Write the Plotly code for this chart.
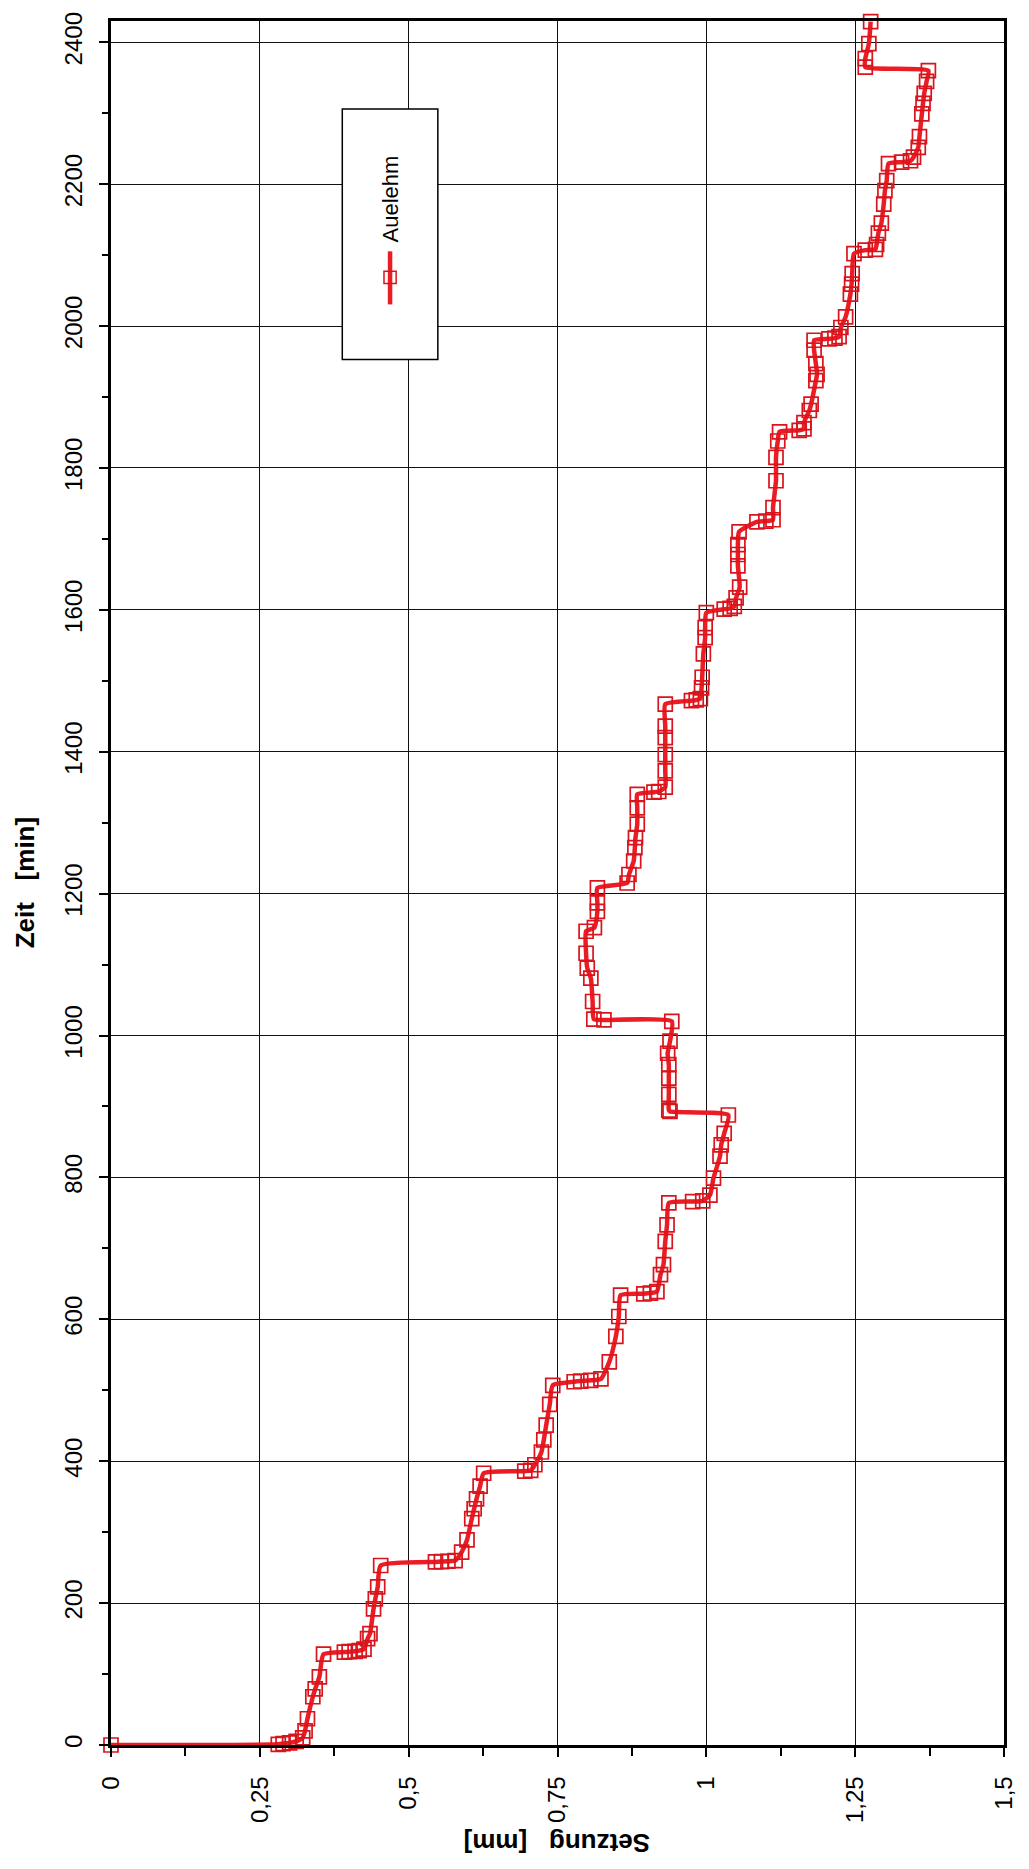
import plotly.graph_objects as go

# Zeit-Setzungs-Verlauf, Probe "Auelehm"
zeit_min = [
    0, 1, 2, 3, 5, 10, 20, 37, 68, 79, 96, 128,
    131, 131.5, 132, 133, 135, 150, 157, 192, 206, 223, 253,
    258, 258.5, 259, 260, 272, 289, 319, 333, 347, 365, 383,
    386, 387, 395, 413, 430, 451, 480, 507,
    512, 513, 514, 516, 540, 576, 604, 634,
    636, 637, 639, 663, 677, 710, 733, 764,
    766, 767, 775, 799, 830, 846, 862, 888,
    893, 895, 917, 940, 959, 975, 992, 1020,
    1022, 1023, 1048, 1081, 1095, 1116, 1147,
    1152, 1175, 1187, 1208,
    1215, 1227, 1246, 1265, 1279, 1298, 1321, 1340,
    1343, 1344, 1350, 1373, 1396, 1420, 1436, 1467,
    1472, 1473, 1475, 1490, 1505, 1538, 1561, 1575, 1596,
    1601, 1602, 1605, 1617, 1632, 1662, 1678, 1692, 1710,
    1724, 1725, 1727, 1744, 1782, 1815, 1838, 1851,
    1853, 1855, 1864, 1881, 1890, 1923, 1932, 1947, 1966, 1980,
    1982, 1983, 1985, 1998, 2013, 2045, 2059, 2074, 2102,
    2107, 2108, 2115, 2131, 2145, 2172, 2191, 2205, 2229,
    2231, 2233, 2238, 2252, 2267, 2299, 2314, 2328, 2345, 2360,
    2365, 2377, 2398, 2429,
]

setzung_mm = [
    0.000, 0.281, 0.289, 0.300, 0.311, 0.322, 0.326, 0.330, 0.339, 0.343, 0.350, 0.357,
    0.392, 0.400, 0.410, 0.417, 0.425, 0.431, 0.435, 0.441, 0.444, 0.448, 0.453,
    0.545, 0.555, 0.566, 0.578, 0.589, 0.598, 0.606, 0.610, 0.614, 0.620, 0.626,
    0.695, 0.705, 0.712, 0.723, 0.727, 0.731, 0.737, 0.742,
    0.778, 0.789, 0.806, 0.823, 0.837, 0.848, 0.853, 0.856,
    0.895, 0.906, 0.917, 0.923, 0.928, 0.931, 0.934, 0.937,
    0.977, 0.994, 1.006, 1.012, 1.023, 1.025, 1.030, 1.037,
    0.939, 0.937, 0.937, 0.937, 0.937, 0.935, 0.939, 0.942,
    0.828, 0.811, 0.809, 0.806, 0.800, 0.798, 0.798,
    0.812, 0.817, 0.817, 0.817,
    0.867, 0.870, 0.878, 0.880, 0.881, 0.884, 0.884, 0.884,
    0.912, 0.920, 0.931, 0.931, 0.931, 0.931, 0.931, 0.931,
    0.975, 0.983, 0.990, 0.992, 0.993, 0.995, 0.998, 0.998, 1.000,
    1.030, 1.040, 1.047, 1.050, 1.056, 1.053, 1.053, 1.053, 1.055,
    1.085, 1.100, 1.112, 1.112, 1.117, 1.117, 1.120, 1.123,
    1.156, 1.164, 1.164, 1.173, 1.176, 1.184, 1.186, 1.184, 1.181, 1.181,
    1.206, 1.216, 1.223, 1.226, 1.234, 1.242, 1.244, 1.245, 1.248,
    1.267, 1.284, 1.286, 1.289, 1.294, 1.298, 1.300, 1.303, 1.306,
    1.328, 1.343, 1.348, 1.356, 1.358, 1.362, 1.364, 1.366, 1.370, 1.373,
    1.267, 1.267, 1.273, 1.276,
]

setzung_ticks = [0, 0.25, 0.5, 0.75, 1, 1.25, 1.5]
setzung_ticktext = ["0", "0,25", "0,5", "0,75", "1", "1,25", "1,5"]
zeit_ticks = [0, 200, 400, 600, 800, 1000, 1200, 1400, 1600, 1800, 2000, 2200, 2400]

RED = "#ec1c24"
MARK = "#d8141c"
FONT = "Liberation Sans, Arial, sans-serif"

fig = go.Figure()
fig.add_trace(go.Scatter(
    x=setzung_mm, y=zeit_min, mode="lines+markers", name="Auelehm",
    line=dict(color=RED, width=4.5, shape="spline", smoothing=0.5),
    marker=dict(symbol="square-open", size=14, color=MARK,
                line=dict(width=1.7, color=MARK)),
    cliponaxis=False, showlegend=False,
))

axis_common = dict(
    showline=True, mirror=True, linecolor="black", linewidth=2.5,
    showgrid=True, gridcolor="#111111", gridwidth=1.4, zeroline=False,
    ticks="outside", ticklen=9, tickwidth=1.5, tickcolor="black",
    tickangle=-90, tickfont=dict(family=FONT, size=24, color="black"),
)

fig.update_xaxes(
    range=[0, 1.5], tickmode="array", tickvals=setzung_ticks, ticktext=setzung_ticktext,
    minor=dict(tickvals=[0.125, 0.375, 0.625, 0.875, 1.125, 1.375],
               ticks="outside", ticklen=8, tickwidth=1.5, tickcolor="black", showgrid=False),
    ticklabelstandoff=10,
    **axis_common,
)
fig.update_yaxes(
    range=[0, 2430], tickmode="array", tickvals=zeit_ticks,
    minor=dict(dtick=100, tick0=0, ticks="outside", ticklen=6, tickwidth=1.5,
               tickcolor="black", showgrid=False),
    ticklabelstandoff=8,
    **axis_common,
)

# axis titles
fig.add_annotation(text="<b>Zeit   [min]</b>", xref="paper", yref="paper",
                   x=-0.096, y=0.5, xanchor="center", yanchor="middle",
                   showarrow=False, textangle=-90,
                   font=dict(family=FONT, size=26, color="black"))
fig.add_annotation(text="<b>Setzung   [mm]</b>", xref="paper", yref="paper",
                   x=0.5, y=-0.0568, xanchor="center", yanchor="middle",
                   showarrow=False, textangle=180,
                   font=dict(family=FONT, size=26, color="black"))

# legend box drawn upright along the rotated layout
lx0, lx1, ly0, ly1 = 0.259, 0.366, 0.8036, 0.9489
fig.add_shape(type="rect", xref="paper", yref="paper", x0=lx0, x1=lx1, y0=ly0, y1=ly1,
              line=dict(color="black", width=1.5), fillcolor="white", layer="above")
lxc = (lx0 + lx1) / 2
fig.add_shape(type="line", xref="paper", yref="paper", x0=lxc, x1=lxc, y0=0.8356, y1=0.8664,
              line=dict(color=RED, width=4.5), layer="above")
fig.add_shape(type="rect", xref="paper", yref="paper",
              x0=lxc - 0.0068, x1=lxc + 0.0068, y0=0.8513 - 0.0036, y1=0.8513 + 0.0036,
              line=dict(color=MARK, width=1.5), layer="above")
fig.add_annotation(text="Auelehm", xref="paper", yref="paper", x=lxc, y=0.8965,
                   xanchor="center", yanchor="middle",
                   showarrow=False, textangle=-90,
                   font=dict(family=FONT, size=22, color="black"))

fig.update_layout(
    width=1029, height=1869,
    margin=dict(l=111, r=14, t=21, b=124),
    paper_bgcolor="white", plot_bgcolor="white",
    showlegend=False,
)

fig.write_html("out.html")
